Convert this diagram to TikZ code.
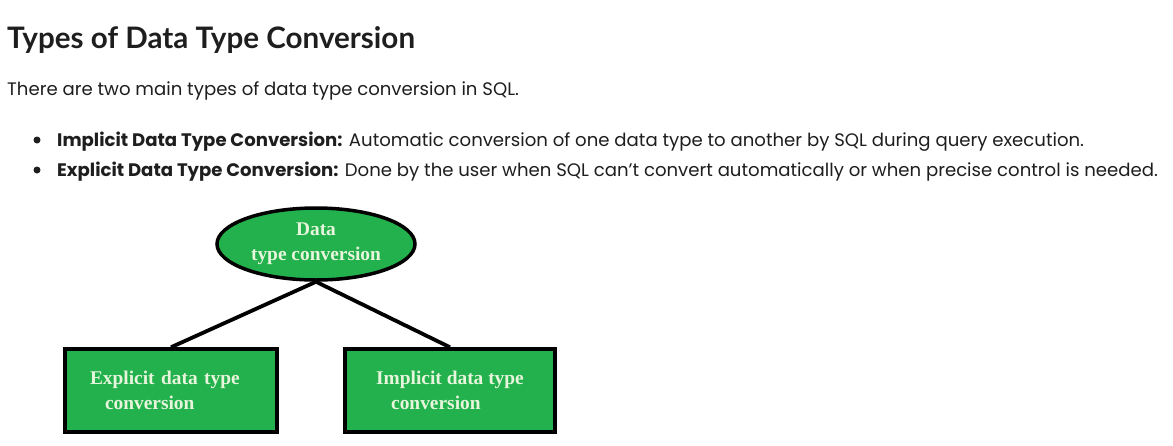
\documentclass[tikz,border=0pt]{standalone}
\usepackage{fontspec}
\usetikzlibrary{shapes.geometric}
\newfontfamily\headfont{Lato}
\newfontfamily\bodyfont{Poppins}
\newfontfamily\chartfont{Liberation Serif}
\definecolor{sqlgreen}{HTML}{22B14C}
\definecolor{sqlpale}{HTML}{E6F5DC}
\definecolor{sqlink}{HTML}{1E1E1E}
\tikzset{
  heading/.style ={anchor=base west, inner sep=0pt, text=sqlink,
                   font=\headfont\bfseries\fontsize{29.6}{36}\selectfont},
  para/.style    ={anchor=base west, inner sep=0pt, text=sqlink,
                   font=\bodyfont\fontsize{18.1}{22}\selectfont},
  dot/.style     ={circle, fill=sqlink, minimum size=7pt, inner sep=0pt},
  chartnode/.style={fill=sqlgreen, draw=black, line width=3.5pt, text=sqlpale,
                   font=\chartfont\bfseries\fontsize{19.4}{25}\selectfont},
  oval/.style    ={chartnode, ellipse, minimum width=198pt, minimum height=72pt,
                   inner sep=0pt, align=center},
  box/.style     ={chartnode, rectangle, minimum height=83pt, align=left},
  link/.style    ={line width=3.8pt, black},
}
\begin{document}
\begin{tikzpicture}[x=1pt,y=-1pt]
  \useasboundingbox[fill=white] (0,0) rectangle (1173,445);
  % --- text part ---
  \node[heading] (title) at (7,48) {Types of Data Type Conversion};
  \node[para] (intro) at (7,95) {There are two main types of data type conversion in SQL.};
  \node[dot] (bulA) at (37,140) {};
  \node[dot] (bulB) at (37,170) {};
  \node[para] (itemA) at (57,146) {\textbf{Implicit Data Type Conversion:} Automatic conversion of one data type to another by SQL during query execution.};
  \node[para] (itemB) at (57,176) {\textbf{Explicit Data Type Conversion:} Done by the user when SQL can’t convert automatically or when precise control is needed.};
  % --- chart ---
  \node[oval] (root) at (316,244) {Data\\type conversion};
  \node[box, minimum width=212pt, text width=162pt] (expl) at (171,390.5)
       {Explicit data type\\\hspace*{15pt}conversion};
  \node[box, minimum width=210pt] (impl) at (450,390.5)
       {Implicit data type\\\hspace*{15pt}conversion};
  \draw[link] (root.south) -- (expl.north);
  \draw[link] (root.south) -- (impl.north);
\end{tikzpicture}
\end{document}
